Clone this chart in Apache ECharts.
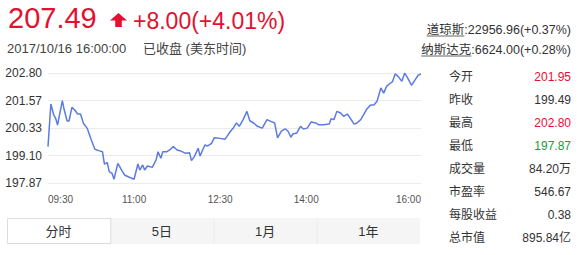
<!DOCTYPE html>
<html>
<head>
<meta charset="utf-8">
<script src="https://cdn.jsdelivr.net/npm/echarts@6/dist/echarts.min.js"></script>
<style>
html,body{margin:0;padding:0;background:#fff;}
#c{width:580px;height:255px;}
</style>
</head>
<body>
<div id="c"></div>
<script>
// ---- data ----
const times = ['09:30','09:33','09:36','09:38','09:40','09:45','09:47','09:50','09:52','09:55','09:58','10:01','10:04','10:07','10:11','10:15','10:19','10:23','10:27','10:29','10:32','10:34','10:37','10:39','10:43','10:47','10:50','10:55','11:00','11:04','11:06','11:09','11:11','11:14','11:19','11:23','11:25','11:28','11:30','11:34','11:38','11:41','11:45','11:49','11:54','11:58','12:00','12:03','12:07','12:09','12:14','12:17','12:21','12:24','12:30','12:35','12:37','12:41','12:44','12:47','12:50','12:54','12:58','13:01','13:05','13:09','13:14','13:19','13:23','13:27','13:30','13:34','13:38','13:41','13:44','13:46','13:50','13:54','13:57','14:01','14:05','14:10','14:13','14:18','14:24','14:26','14:29','14:32','14:36','14:39','14:43','14:46','14:50','14:53','14:57','15:00','15:03','15:07','15:11','15:14','15:18','15:21','15:24','15:28','15:30','15:33','15:36','15:40','15:43','15:47','15:50','15:54','15:57','16:00'];
const prices = [199.50,201.41,200.92,200.77,200.47,201.56,201.14,200.65,200.65,201.26,201.14,200.96,200.96,200.55,200.32,199.83,199.38,199.32,199.27,198.72,198.78,198.38,198.30,198.04,198.75,198.45,198.23,198.13,198.04,198.72,198.45,198.68,198.45,198.63,198.57,198.90,199.27,198.98,199.27,199.27,199.38,199.50,199.35,199.30,199.20,199.23,198.87,199.05,199.43,199.08,199.57,199.53,199.65,199.90,199.87,199.83,199.95,200.20,200.35,200.56,200.41,200.71,201.08,200.66,200.56,200.41,200.33,200.71,200.63,200.56,199.89,200.19,200.30,200.19,199.92,200.07,200.11,200.41,200.29,200.33,200.60,200.56,200.48,200.48,200.51,200.75,200.71,201.08,201.01,200.86,200.96,200.78,200.51,200.56,200.71,200.93,201.16,201.35,201.38,201.53,202.13,201.90,202.20,202.35,202.40,202.76,202.65,202.43,202.80,202.50,202.25,202.50,202.70,202.76];
const yTickLabels = ['197.87','199.10','200.33','201.57','202.80'];
const xTickLabels = ['09:30','11:00','12:30','14:00','16:00'];
const tabLabels = ['分时','5日','1月','1年'];
const statLabels = ['今开','昨收','最高','最低','成交量','市盈率','每股收益','总市值'];
const statValues = ['201.95','199.49','202.80','197.87','84.20万','546.67','0.38','895.84亿'];
const headPrice = '207.49';
const headChange = '+8.00(+4.01%)';
const headTime = '2017/10/16 16:00:00';
const headStatus = '已收盘 (美东时间)';
const indexNames = ['道琼斯','纳斯达克'];
const indexValues = [':22956.96(+0.37%)',':6624.00(+0.28%)'];

// ---- build ----
const FONT = '"Liberation Sans", Arial, "Noto Sans CJK SC", sans-serif';
const RED = '#e3102f', GREEN = '#1c9a3c', TXT = '#333';
const yMin = Number(yTickLabels[0]);
const yMax = Number(yTickLabels[yTickLabels.length - 1]);
const yStep = (yMax - yMin) / (yTickLabels.length - 1);
const toMin = t => { const p = t.split(':').map(Number); return p[0] * 60 + p[1] - 570; };
const toTime = m => { const h = Math.floor((m + 570) / 60), mm = (m + 570) % 60; return String(h).padStart(2,'0') + ':' + String(mm).padStart(2,'0'); };
const lineData = times.map((t, i) => [toMin(t), +(prices[i] - yMin).toFixed(4)]);

const statColor = { '今开': RED, '最高': RED, '最低': GREEN };
const graphics = [];
const txt = (text, x, y, size, fill, align) => ({
  type: 'text', silent: true,
  style: { text, x, y, font: size + 'px ' + FONT, fill, textAlign: align || 'left', textVerticalAlign: 'middle' }
});
graphics.push(txt(headPrice, 8, 18, 29, RED));
graphics.push({ type: 'polygon', silent: true,
  shape: { points: [[110,20.5],[118.5,13],[127,20.5],[121.8,20.5],[121.8,27],[115.2,27],[115.2,20.5]] },
  style: { fill: RED } });
graphics.push(txt(headChange, 133, 21, 23, RED));
graphics.push(txt(headTime, 7, 48, 13, '#444'));
graphics.push(txt(headStatus, 143, 48, 13, '#444'));

// index lines
const idxY = [30, 50];
const mctx = document.createElement('canvas').getContext('2d');
indexNames.forEach((n, i) => {
  const full = n + indexValues[i];
  const font = '12.5px ' + FONT;
  graphics.push({ type: 'text', silent: true, style: {
    text: full, x: 571, y: idxY[i], font, fill: TXT, textAlign: 'right', textVerticalAlign: 'middle' } });
  mctx.font = font;
  const wAll = mctx.measureText(full).width, wName = mctx.measureText(n).width;
  const x1 = 571 - wAll;
  graphics.push({ type: 'line', silent: true,
    shape: { x1: x1, y1: idxY[i] + 6, x2: x1 + wName, y2: idxY[i] + 6 },
    style: { stroke: '#666', lineWidth: 1 } });
});

// stats
statLabels.forEach((l, i) => {
  const y = 76.5 + 23 * i;
  graphics.push(txt(l, 449, y, 12, TXT));
  graphics.push(txt(statValues[i], 571, y, 12, statColor[l] || TXT, 'right'));
});

// tabs
const tabX0 = 7, tabW = 103.25, tabY = 218, tabH = 26;
graphics.push({ type: 'rect', silent: true, shape: { x: tabX0 + tabW, y: tabY, width: tabW * 3, height: tabH }, style: { fill: '#f5f5f5' } });
for (let i = 2; i < 4; i++) {
  graphics.push({ type: 'line', silent: true, shape: { x1: tabX0 + tabW * i + 0.5, y1: tabY, x2: tabX0 + tabW * i + 0.5, y2: tabY + tabH }, style: { stroke: '#ececec', lineWidth: 1 } });
}
graphics.push({ type: 'rect', silent: true, shape: { x: tabX0 + 0.5, y: tabY + 0.5, width: tabW, height: tabH - 1 }, style: { fill: '#fff', stroke: '#dcdcdc', lineWidth: 1 } });
tabLabels.forEach((l, i) => {
  graphics.push(txt(l, tabX0 + tabW * (i + 0.5), tabY + tabH / 2, 13, TXT, 'center'));
});

const chart = echarts.init(document.getElementById('c'), null, { renderer: 'svg' });
chart.setOption({
  animation: false,
  backgroundColor: '#fff',
  textStyle: { fontFamily: FONT },
  grid: { left: 48, right: 159, top: 73, bottom: 72 },
  xAxis: {
    type: 'value', min: 0, max: 390, interval: 30,
    axisLine: { show: false }, axisTick: { show: false }, splitLine: { show: false },
    axisLabel: {
      color: '#555', fontSize: 10, fontFamily: FONT, margin: 11,
      alignMinLabel: 'left', alignMaxLabel: 'right',
      formatter: v => { const t = toTime(Math.round(v)); return xTickLabels.includes(t) ? t : ''; }
    }
  },
  yAxis: {
    type: 'value', min: 0, max: +(yMax - yMin).toFixed(4), interval: yStep,
    axisLine: { show: false }, axisTick: { show: false },
    splitLine: { lineStyle: { color: '#ebebeb', width: 1 } },
    axisLabel: {
      color: TXT, fontSize: 12, fontFamily: FONT, margin: 6,
      formatter: v => yTickLabels[Math.round(v / yStep)] || ''
    }
  },
  series: [{
    type: 'line', data: lineData, showSymbol: false, smooth: false,
    lineStyle: { color: '#5b7be0', width: 1.5 }
  }],
  graphic: graphics
});
</script>
</body>
</html>
